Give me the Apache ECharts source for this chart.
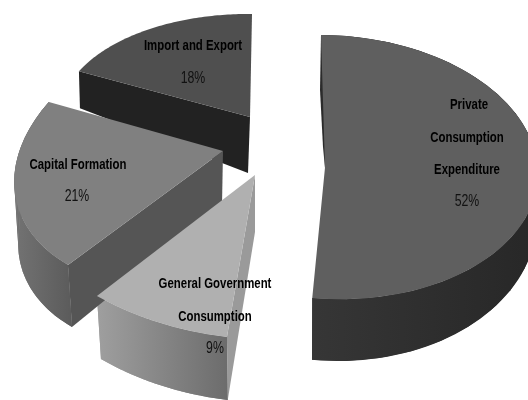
<!DOCTYPE html>
<html>
<head>
<meta charset="utf-8">
<style>html,body{margin:0;padding:0;background:#fff}#c{width:528px;height:400px;filter:blur(0.3px)}</style>
<script src="https://cdn.jsdelivr.net/npm/echarts@6/dist/echarts.min.js"></script>
</head>
<body>
<div id="c"></div>
<script>
// ---- data ----
const categories = ['Private Consumption Expenditure', 'General Government Consumption', 'Capital Formation', 'Import and Export'];
const values = [52, 9, 21, 18];
const labelLines = [['Private', 'Consumption', 'Expenditure'], ['General Government', 'Consumption'], ['Capital Formation'], ['Import and Export']];

// ---- styling and projection of each exploded slice (no data here) ----
const drawOrder = [3, 2, 1, 0];
const frames = [
  { c:[329.7,167.1], u:[-8.7,-132.1], v:[208,1], apex:[325,168], notch:[327,147],
    c2:[330,212], u2:[-8,-149], v2:[207,0],
    top:'#5f5f5f', wall:['#363636','#272727'], backSliver:'#2b2b2b' },
  { c:[255,175], u:[-3.6,-164.4], v:[252.3,9], apex:[255,175], sideApex:[255,232],
    c2:[255,238], u2:[-3.6,-164.4], v2:[246,9],
    top:'#b0b0b0', side:'#9a9a9a', wall:['#9f9f9f','#6c6c6c'] },
  { c:[223,151], u:[30.3,-138.7], v:[206.6,-11], apex:[223,151], sideApex:[222,205],
    c2:[227,213], u2:[30.3,-138.7], v2:[206.6,-11],
    top:'#808080', side:'#555555', wall:['#737373','#5b5b5b'] },
  { c:[250,117], u:[2,-103], v:[190,2], apex:[250,117], sideApex:[248,173],
    top:'#4f4f4f', side:'#222222' }
];
const labelPos = [
  [[469,105],[467,138],[467,170],[467,202]],
  [[215,284],[215,317],[215,349]],
  [[78,165],[77,197]],
  [[193,46],[193,79]]
];
const nameFont = { font:'bold 15px "Liberation Sans", sans-serif', fill:'#000', scaleX:0.76 };
const pctFont = { font:'16px "Liberation Sans", sans-serif', fill:'#111', scaleX:0.77 };
const total = values.reduce((a, b) => a + b, 0);
const starts = [];
values.reduce((s, v, i) => { starts[i] = s; return s + v / total * 2 * Math.PI; }, 0);

const pt = (c, u, v, t) => [c[0] + u[0]*Math.cos(t) + v[0]*Math.sin(t), c[1] + u[1]*Math.cos(t) + v[1]*Math.sin(t)];
const arc = (c, u, v, a, b) => { const o = []; for (let i = 0; i <= 80; i++) o.push(pt(c, u, v, a + (b-a)*i/80)); return o; };
const poly = (points, fill, z) => ({ type:'polygon', z2:z, shape:{points}, style:{fill, lineWidth:0} });

function label(text, p, s) {
  return { type:'text', z2:5, x:p[0], y:p[1], scaleX:s.scaleX,
    style:{ text, x:0, y:0, align:'center', verticalAlign:'middle', font:s.font, fill:s.fill } };
}

function renderItem(params, api) {
  const i = api.value(0);
  const f = frames[i];
  const a = starts[i], b = a + api.value(1) / total * 2 * Math.PI;
  const top = arc(f.c, f.u, f.v, a, b);
  const children = [];
  if (f.wall) {
    const lowArc = arc(f.c2, f.u2, f.v2, a, b);
    const xs = top.concat(lowArc).map(p => p[0]);
    const fill = { type:'linear', global:true, x:Math.min(...xs), y:0, x2:Math.max(...xs), y2:0,
      colorStops:[{offset:0,color:f.wall[0]},{offset:1,color:f.wall[1]}] };
    children.push(poly(top.concat(lowArc.slice().reverse()), fill, 1));
    for (let k = 0; k + 4 <= 80; k += 4) {
      children.push(poly([top[k], top[k+4], lowArc[k+4], lowArc[k]], fill, 1));
    }
  }
  if (f.side) {
    const p = pt(f.c, f.u, f.v, a);
    const q = f.c2 ? pt(f.c2, f.u2, f.v2, a) : [p[0] + 1, p[1] + 37];
    children.push(poly([f.apex, p, q, f.sideApex], f.side, 2));
  }
  if (f.backSliver) {
    const p = pt(f.c, f.u, f.v, a);
    children.push(poly([p, [p[0]-1, p[1]+55], [p[0]+2, p[1]+112], f.apex, f.notch], f.backSliver, 2));
  }
  const face = f.notch ? [f.notch, f.apex] : [f.apex];
  children.push(poly(top.concat(face), f.top, 3));
  const lines = labelLines[i];
  const pos = labelPos[i];
  lines.forEach((t, k) => children.push(label(t, pos[k], nameFont)));
  children.push(label(api.value(1) + '%', pos[lines.length], pctFont));
  return { type:'group', children };
}

const chart = echarts.init(document.getElementById('c'), null, { renderer:'canvas' });
chart.setOption({
  animation:false,
  backgroundColor:'#ffffff',
  series:[{
    type:'custom',
    coordinateSystem:'none',
    renderItem,
    data: drawOrder.map(i => ({ name:categories[i], value:[i, values[i]] }))
  }]
});
</script>
</body>
</html>
